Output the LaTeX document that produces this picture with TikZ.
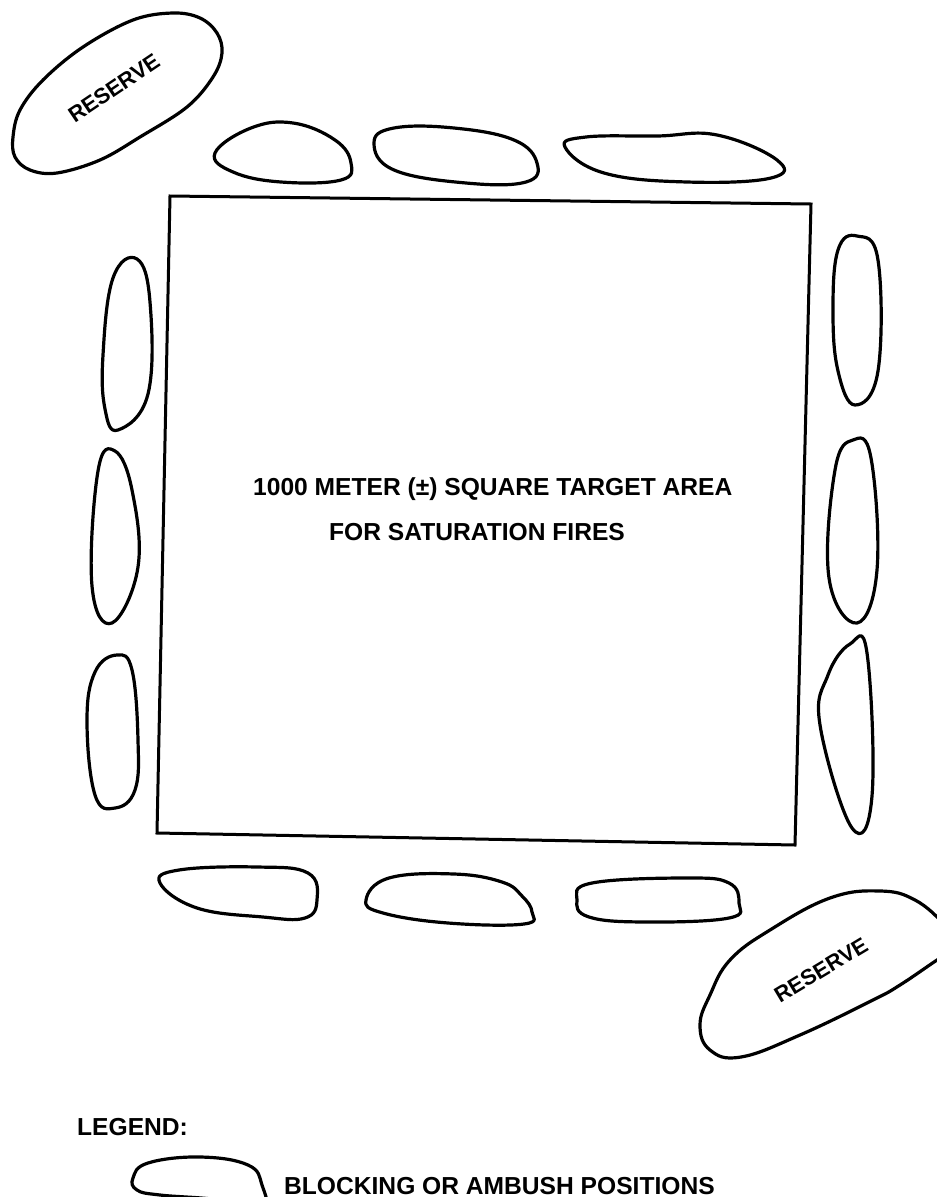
\documentclass[tikz,border=0pt]{standalone}
\usepackage{fontspec}
\setmainfont{Liberation Sans}
\usepackage{tikz}
\tikzset{
  blob/.style={draw, line width=3.2pt, line join=round},
  frame/.style={draw, line width=3pt, line join=miter},
  lbl/.style={font=\fontsize{24.6}{28}\selectfont\bfseries, inner sep=0pt},
  reslbl/.style={font=\fontsize{22}{24}\selectfont\bfseries, inner sep=0pt}
}

\begin{document}
\begin{tikzpicture}[x=1pt, y=-1pt]
        \useasboundingbox (0,0) rectangle (937,1197);
        % Square target area
        \draw[frame] (170,196) -- (811,204) -- (795,845) -- (157,833) -- cycle;
        \node[lbl, anchor=base west] (area1) at (253,495) {1000 METER (±) SQUARE TARGET AREA};
        \node[lbl, anchor=base west] (area2) at (329,540) {FOR SATURATION FIRES};
        % Reserve, upper left
        \draw[blob] plot[smooth cycle, tension=0.6] coordinates {
          (13,137) (20,110) (43,80) (83,47) (133,20) (173,13) (200,18) (217,33)
          (222,53) (213,77) (187,107) (140,137) (100,160) (57,173) (30,170) (15,157)};
        \node[reslbl, rotate=34] (res1) at (114,88) {RESERVE};
        % Top positions
        \draw[blob] plot[smooth cycle, tension=0.7] coordinates {
          (215,153) (251,128) (293,123) (335,140) (351,163) (341,180) (281,182) (233,172)};
        \draw[blob] plot[smooth cycle, tension=0.7] coordinates {
          (374,143) (394,128) (454,128) (514,140) (537,163) (526,182) (466,183) (394,170)};
        \draw[blob] plot[smooth cycle, tension=0.7] coordinates {
          (565,147) (586,137) (657,136) (717,135) (777,160) (771,178) (687,182) (604,173)};
        % Left positions
        \draw[blob] plot[smooth cycle, tension=0.7] coordinates {
          (137,259) (150,302) (148,394) (118,430) (105,409) (103,355) (113,278)};
        \draw[blob] plot[smooth cycle, tension=0.7] coordinates {
          (115,451) (132,490) (138,567) (112,623) (92,586) (98,471)};
        \draw[blob] plot[smooth cycle, tension=0.7] coordinates {
          (117,655) (132,670) (138,740) (135,790) (115,808) (95,795) (87,721) (95,672)};
        % Right positions
        \draw[blob] plot[smooth cycle, tension=0.7] coordinates {
          (857,236) (878,260) (878,371) (855,405) (838,371) (833,311) (838,250)};
        \draw[blob] plot[smooth cycle, tension=0.7] coordinates {
          (853,440) (871,458) (877,570) (857,623) (829,578) (835,470)};
        \draw[blob] plot[smooth cycle, tension=0.7] coordinates {
          (850,644) (867,653) (872,796) (852,828) (820,725) (828,675)};
        % Bottom positions
        \draw[blob] plot[smooth cycle, tension=0.7] coordinates {
          (160,883) (179,870) (257,867) (308,873) (317,900) (305,918) (263,917) (197,908)};
        \draw[blob] plot[smooth cycle, tension=0.7] coordinates {
          (366,900) (389,878) (454,874) (502,882) (522,896) (532,912) (524,924) (448,923) (383,913)};
        \draw[blob] plot[smooth cycle, tension=0.7] coordinates {
          (577,900) (592,883) (687,878) (729,883) (739,903) (729,918) (646,922) (589,917)};
        % Reserve, lower right
        \draw[blob] plot[smooth cycle, tension=0.7] coordinates {
          (700,1025) (710,995) (730,960) (770,930) (830,898) (880,891) (915,900)
          (945,925) (960,945) (937,960) (900,985) (873,1000) (800,1035) (741,1057) (710,1050)};
        \node[reslbl, rotate=31] (res2) at (821,970) {RESERVE};
        % Legend
        \node[lbl, anchor=base west] (legend) at (77,1135) {LEGEND:};
        \draw[blob] plot[smooth cycle, tension=0.7] coordinates {
          (133,1178) (148,1163) (200,1157) (248,1165) (262,1185) (263,1210) (220,1200) (160,1195) (137,1190)};
        \node[lbl, anchor=base west] (blocking) at (284,1194) {BLOCKING OR AMBUSH POSITIONS};
      \end{tikzpicture}
\end{document}
